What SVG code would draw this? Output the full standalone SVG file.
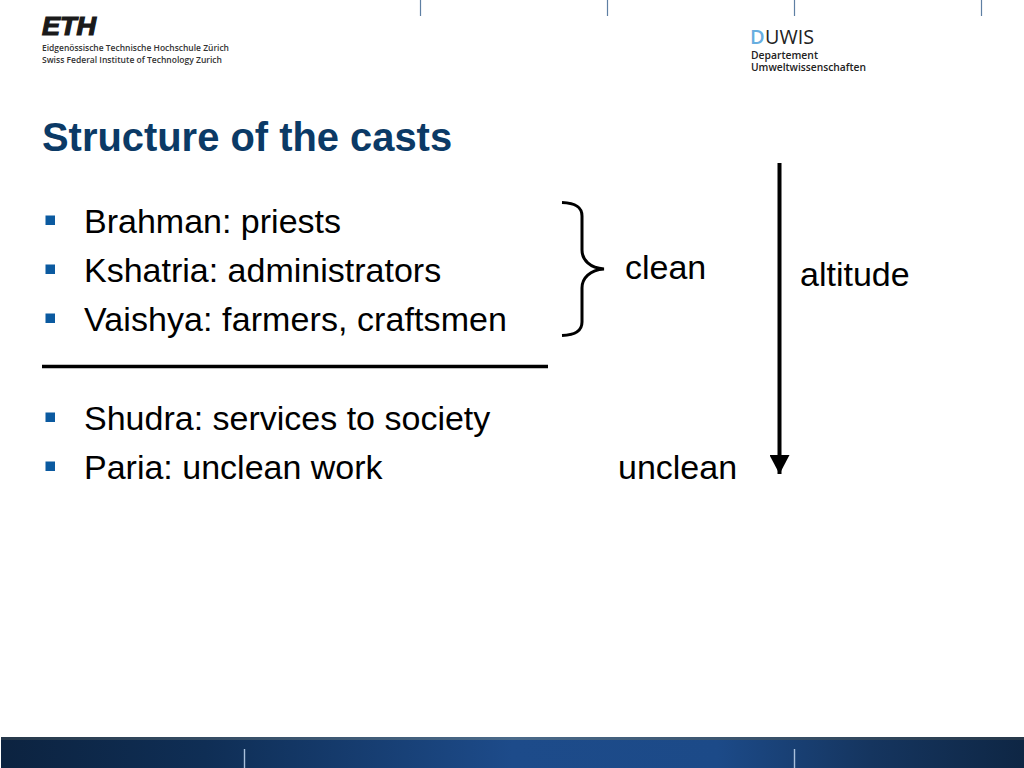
<svg xmlns="http://www.w3.org/2000/svg" width="1024" height="768" viewBox="0 0 1024 768">
<defs>
<linearGradient id="band" x1="0" x2="1" y1="0" y2="0">
<stop offset="0" stop-color="#0c2340"/><stop offset="0.2" stop-color="#0f2e55"/><stop offset="0.5" stop-color="#1d4b8a"/><stop offset="0.7" stop-color="#1c4a88"/><stop offset="0.85" stop-color="#15355f"/><stop offset="1" stop-color="#0e2644"/>
</linearGradient>
<linearGradient id="bandtop" x1="0" x2="1" y1="0" y2="0">
<stop offset="0" stop-color="#26384a"/><stop offset="0.5" stop-color="#4a6a8a"/><stop offset="1" stop-color="#26384a"/>
</linearGradient>
<marker id="head" markerUnits="userSpaceOnUse" markerWidth="20" markerHeight="20" refX="19" refY="10" orient="auto" viewBox="0 0 20 20"><path d="M0 0L19 10L0 20Z" fill="#000"/></marker>
</defs>
<style>
text{font-family:"Liberation Sans",Arial,sans-serif;fill:#000}
.b{font-size:34px}
.sm{font-family:"Open Sans","Noto Sans",sans-serif;font-weight:600;fill:#333}
.bullet{fill:#0b5aa0}
.tick{stroke:#5e7fa3;stroke-width:1.2}
.ltick{stroke:#a9c0dc;stroke-width:1.4}
</style>
<rect width="1024" height="768" fill="#fff"/>
<g id="header-ticks">
<line class="tick" x1="420.500" y1="0" x2="420.500" y2="16"/>
<line class="tick" x1="607.500" y1="0" x2="607.500" y2="16"/>
<line class="tick" x1="794.500" y1="0" x2="794.500" y2="16"/>
<line class="tick" x1="981.500" y1="0" x2="981.500" y2="16"/>
</g>
<g id="eth-logo">
<text x="42" y="35" font-size="25" font-weight="700" font-style="italic" textLength="54" lengthAdjust="spacingAndGlyphs" style="fill:#1a1a1a;stroke:#1a1a1a;stroke-width:1.200">ETH</text>
<text class="sm" x="42" y="51" font-size="8.700" textLength="187" lengthAdjust="spacingAndGlyphs">Eidgenössische Technische Hochschule Zürich</text>
<text class="sm" x="42" y="63" font-size="8.700" textLength="180" lengthAdjust="spacingAndGlyphs">Swiss Federal Institute of Technology Zurich</text>
</g>
<g id="duwis-logo">
<text x="750" y="44" font-size="20" style="font-family:'Open Sans',sans-serif;fill:#67aee0;font-weight:600">D</text>
<text x="765" y="44" font-size="20" textLength="49" lengthAdjust="spacingAndGlyphs" style="font-family:'Open Sans',sans-serif;fill:#222">UWIS</text>
<text class="sm" x="751" y="59" font-size="10.500" textLength="67" lengthAdjust="spacingAndGlyphs" style="fill:#222">Departement</text>
<text class="sm" x="751" y="71" font-size="10.500" textLength="115" lengthAdjust="spacingAndGlyphs" style="fill:#222">Umweltwissenschaften</text>
</g>
<text id="title" x="42" y="150.500" font-size="39.900" font-weight="700" style="fill:#0b3a66">Structure of the casts</text>
<g id="list">
<rect class="bullet" x="45.500" y="215.500" width="9.500" height="9.500"/>
<text class="b" x="84" y="233">Brahman: priests</text>
<rect class="bullet" x="45.500" y="264.500" width="9.500" height="9.500"/>
<text class="b" x="84" y="282">Kshatria: administrators</text>
<rect class="bullet" x="45.500" y="313.500" width="9.500" height="9.500"/>
<text class="b" x="84" y="331" textLength="423">Vaishya: farmers, craftsmen</text>
<rect class="bullet" x="45.500" y="412.500" width="9.500" height="9.500"/>
<text class="b" x="84" y="430">Shudra: services to society</text>
<rect class="bullet" x="45.500" y="461.500" width="9.500" height="9.500"/>
<text class="b" x="84" y="479">Paria: unclean work</text>
</g>
<g id="labels">
<text class="b" x="625" y="279">clean</text>
<text class="b" x="800" y="286">altitude</text>
<text class="b" x="618" y="479">unclean</text>
</g>
<g id="connectors" fill="none" stroke="#000">
<line id="divider" x1="42" y1="366.500" x2="548" y2="366.500" stroke-width="3.500"/>
<path id="brace" d="M562 202.500C574 203 582 206 582 216V250C582 260 590 268 604 269C590 270 582 278 582 288V322C582 332 574 335 562 335.500" stroke-width="3"/>
<line id="altitude-arrow" x1="779.500" y1="163" x2="779.500" y2="474" stroke-width="4" marker-end="url(#head)"/>
</g>
<g id="footer">
<rect x="1" y="737" width="1023" height="31" fill="url(#band)"/>
<rect x="1" y="737" width="1023" height="3" fill="url(#bandtop)"/>
<line class="ltick" x1="244.500" y1="749" x2="244.500" y2="768"/>
<line class="ltick" x1="794.500" y1="749" x2="794.500" y2="768"/>
</g>
</svg>
